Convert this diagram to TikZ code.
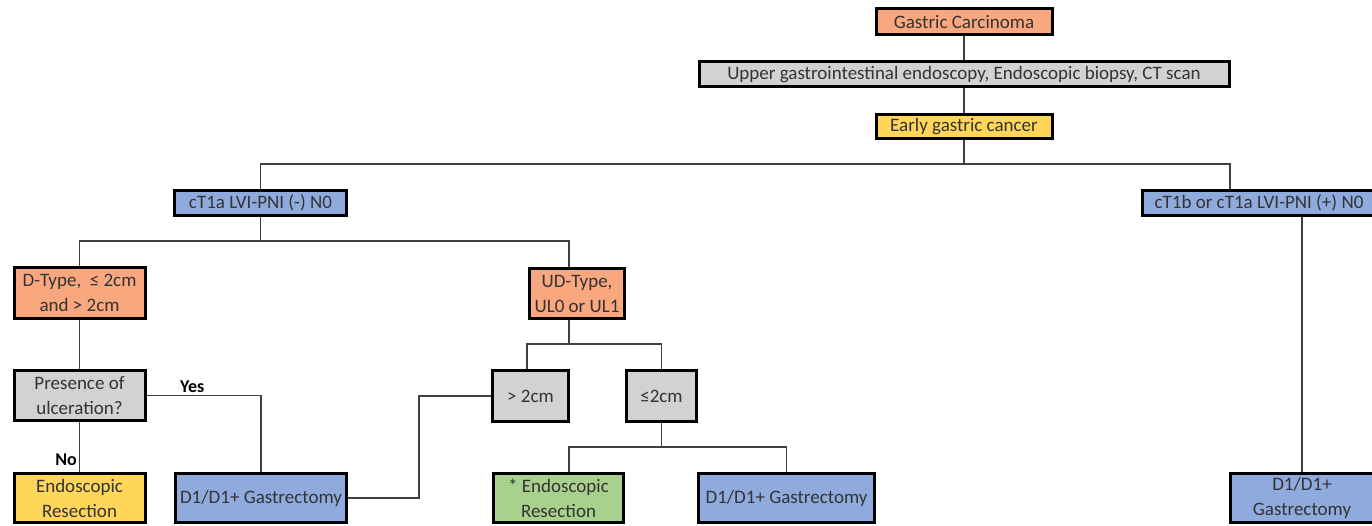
\documentclass[tikz,border=0pt]{standalone}
\usepackage{fontspec}
\setmainfont{Carlito}
\usepackage{tikz}
\definecolor{boxorange}{HTML}{F8A77F}
\definecolor{boxgray}{HTML}{D2D2D2}
\definecolor{boxyellow}{HTML}{FFD55A}
\definecolor{boxblue}{HTML}{8FAADC}
\definecolor{boxgreen}{HTML}{A9D18E}
\definecolor{txtgray}{HTML}{333333}
\definecolor{linegray}{HTML}{404040}

\begin{document}
\begin{tikzpicture}[x=1pt,y=-1pt,
    box/.style={draw=black,line width=3pt,inner sep=0pt,align=center,text=txtgray,
      font=\fontsize{19}{25}\selectfont},
    orange/.style={box,fill=boxorange},
    gray/.style={box,fill=boxgray},
    yellow/.style={box,fill=boxyellow},
    blue/.style={box,fill=boxblue},
    green/.style={box,fill=boxgreen},
    link/.style={draw=linegray,line width=1.4pt},
    answer/.style={font=\fontsize{18}{20}\selectfont\bfseries,text=black,inner sep=2pt}]
      \clip (0,0) rectangle (1372,526);
      \fill[white] (0,0) rectangle (1372,526);

      \node[orange,minimum width=176,minimum height=26] (gc) at (964,22) {Gastric Carcinoma};
      \node[gray,minimum width=530,minimum height=25] (ugi) at (964,74.5)
        {Upper gastrointestinal endoscopy, Endoscopic biopsy, CT scan};
      \node[yellow,minimum width=176,minimum height=24] (egc) at (964,126.5) {Early gastric cancer};

      \node[blue,minimum width=172,minimum height=25] (t1a) at (260.5,203) {cT1a LVI-PNI (-) N0};
      \node[blue,minimum width=233,minimum height=25] (t1b) at (1259,203) {cT1b or cT1a LVI-PNI (+) N0};

      \node[orange,minimum width=131,minimum height=50] (dtype) at (79.5,293) {D-Type,~ ≤ 2cm\\and > 2cm};
      \node[orange,minimum width=95,minimum height=50] (udtype) at (577,293.5) {UD-Type,\\UL0 or UL1};

      \node[gray,minimum width=131,minimum height=50] (ulc) at (79.5,395.5) {Presence of\\ulceration?};
      \node[gray,minimum width=76,minimum height=51] (gt2) at (530.5,396) {> 2cm};
      \node[gray,minimum width=70,minimum height=51] (le2) at (661.5,396) {≤2cm};

      \node[yellow,minimum width=131,minimum height=49] (er1) at (79.5,498) {Endoscopic\\Resection};
      \node[blue,minimum width=171,minimum height=49] (gas1) at (261,498) {D1/D1+ Gastrectomy};
      \node[green,minimum width=130,minimum height=49] (er2) at (558.5,498) {* Endoscopic\\Resection};
      \node[blue,minimum width=176,minimum height=49] (gas2) at (786.5,498) {D1/D1+ Gastrectomy};
      \node[blue,minimum width=143,minimum height=49] (gas3) at (1302,498) {D1/D1+\\Gastrectomy};

      \path[link]
      (gc) -- (ugi)
      (ugi) -- (egc)
      (egc.south) -- (964,164) -| (t1a.north)
      (964,164) -| ([xshift=-29pt]t1b.north)
      (t1a.south) -- (260.5,241) -| (dtype.north)
      (260.5,241) -| ([xshift=-8pt]udtype.north)
      ([xshift=-8pt]udtype.south) -- (569,344) -| ([xshift=-3.5pt]gt2.north)
      (569,344) -| (le2.north)
      (dtype) -- (ulc)
      (ulc.east) -| node[answer,pos=0.2,above] {Yes} (gas1.north)
      (ulc) -- node[answer,pos=0.76,left] {No} (er1)
      (gas1.east) -- (419,498) |- (gt2.west)
      (le2.south) -- (661.5,447) -| ([xshift=10.5pt]er2.north)
      (661.5,447) -| (gas2.north)
      ([xshift=43pt]t1b.south) -- (gas3.north)
      ;
    \end{tikzpicture}
\end{document}
